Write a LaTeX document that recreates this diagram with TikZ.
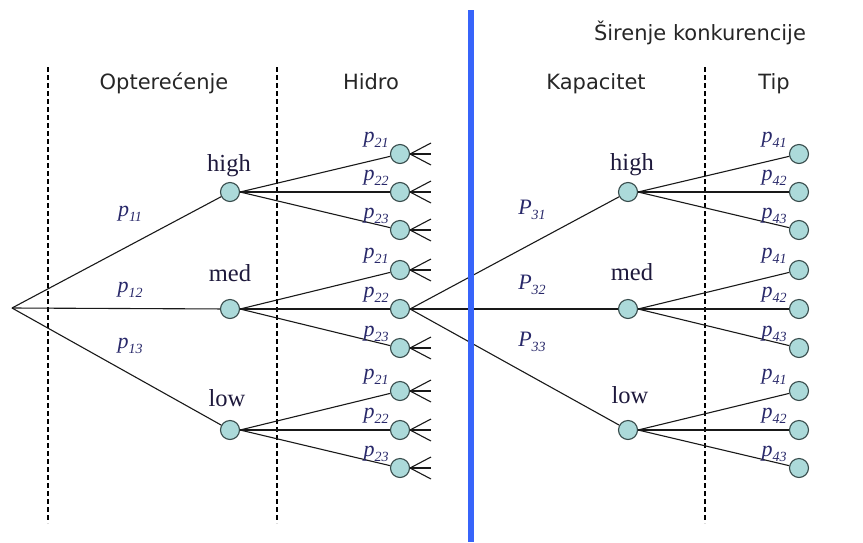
\documentclass[tikz,border=0pt]{standalone}
\usepackage{fontspec}
\setmainfont{Liberation Serif}
\newfontfamily\hdrfont{DejaVu Sans}
\usetikzlibrary{calc}
\definecolor{leaffill}{RGB}{172,218,218}
\definecolor{leafdraw}{RGB}{55,75,75}
\definecolor{plab}{RGB}{40,40,105}
\definecolor{nlab}{RGB}{30,25,60}
\definecolor{divblue}{RGB}{55,100,250}
\definecolor{edgecol}{RGB}{25,25,25}
\newcommand\prb[2]{#1\raisebox{-0.2em}{\fontsize{14}{15}\selectfont #2}}
\begin{document}
\begin{tikzpicture}[x=1pt,y=-1pt,
  chance/.style={circle, draw=leafdraw, fill=leaffill, line width=1.1pt, minimum size=19pt, inner sep=0pt},
  edge/.style={line width=1.1pt, draw=edgecol},
  hdr/.style={font=\hdrfont\fontsize{21}{25}\selectfont, anchor=base, text=black!85, inner sep=0pt},
  state/.style={font=\fontsize{24.5}{28}\selectfont, anchor=base, text=nlab, inner sep=0pt},
  prob/.style={font=\itshape\fontsize{22}{24}\selectfont, text=plab, inner sep=0pt},
  sep/.style={dash pattern=on 5pt off 3pt, line width=1.5pt},
]
\useasboundingbox (0,0) rectangle (863,542);

% separators
\draw[sep] (48,67) -- (48,523);
\draw[sep] (277,67) -- (277,523);
\draw[sep] (705,67) -- (705,523);

% headers
\node[hdr] (hOpt) at (164,89) {Opterećenje};
\node[hdr] (hHid) at (371,89) {Hidro};
\node[hdr] (hKap) at (596,89) {Kapacitet};
\node[hdr] (hTip) at (774,89) {Tip};
\node[hdr] (hSir) at (700,40) {Širenje konkurencije};

% nodes
\coordinate (root) at (12,308);
\node[chance] (A1) at (230,192) {};
\node[chance] (A2) at (230,309) {};
\node[chance] (A3) at (230,430) {};
\foreach \n/\y in {11/154,12/192,13/230,21/270,22/309,23/348,31/391,32/430,33/468}{
  \node[chance] (H\n) at (400,\y) {};
  \node[chance] (T\n) at (799,\y) {};
}
\node[chance] (K1) at (628,192) {};
\node[chance] (K2) at (628,309) {};
\node[chance] (K3) at (628,430) {};

% state labels
\node[state] (lA1) at (229,171) {high};
\node[state] (lA2) at (230,281) {med};
\node[state] (lA3) at (227,406) {low};
\node[state] (lK1) at (632,170) {high};
\node[state] (lK2) at (632,280) {med};
\node[state] (lK3) at (630,403) {low};

% edges level 1
\draw[edge] (root) -- (A1);
\draw[edge] (root) -- (A2);
\draw[edge] (root) -- (A3);
% edges level 2
\foreach \g in {1,2,3}{
  \foreach \k in {1,2,3}{
    \draw[edge] (A\g.east) -- (H\g\k);
    \draw[edge] (K\g.east) -- (T\g\k);
  }
}
% edges to Kapacitet
\draw[edge] (H22.east) -- (K1);
\draw[edge] (H22.east) -- (K2);
\draw[edge] (H22.east) -- (K3);
% stubs
\foreach \n in {11,12,13,21,23,31,32,33}{
  \coordinate (S\n a) at ($(H\n)+(31,-11)$);
  \coordinate (S\n b) at ($(H\n)+(31,0)$);
  \coordinate (S\n c) at ($(H\n)+(31,11)$);
  \draw[edge] (H\n.east) -- (S\n a);
  \draw[edge] (H\n.east) -- (S\n b);
  \draw[edge] (H\n.east) -- (S\n c);
}

% probability labels
\node[prob] (p11) at (130,214) {\prb{p}{11}};
\node[prob] (p12) at (130,290) {\prb{p}{12}};
\node[prob] (p13) at (130,346) {\prb{p}{13}};
\foreach \g/\a/\b/\c in {1/154/192/230,2/270/309/348,3/391/430/468}{
  \node[prob] (q\g1) at (376,\a-14) {\prb{p}{21}};
  \node[prob] (q\g2) at (376,\b-14) {\prb{p}{22}};
  \node[prob] (q\g3) at (376,\c-14) {\prb{p}{23}};
  \node[prob] (r\g1) at (774,\a-14) {\prb{p}{41}};
  \node[prob] (r\g2) at (774,\b-14) {\prb{p}{42}};
  \node[prob] (r\g3) at (774,\c-14) {\prb{p}{43}};
}
\node[prob] (P31) at (532,210) {\prb{P}{31}};
\node[prob] (P32) at (532,285) {\prb{P}{32}};
\node[prob] (P33) at (532,342) {\prb{P}{33}};

% blue divider
\draw[divblue, line width=6pt] (471,10) -- (471,542);
\end{tikzpicture}
\end{document}
